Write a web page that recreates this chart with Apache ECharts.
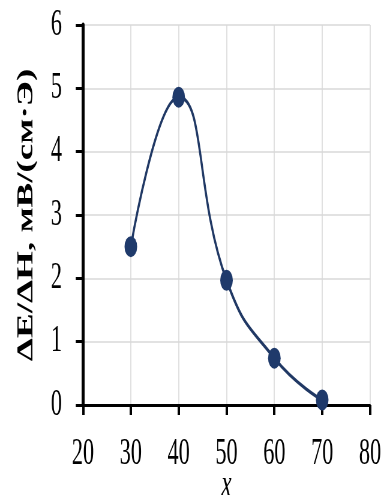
<!DOCTYPE html>
<html>
<head>
<meta charset="utf-8">
<script src="https://cdn.jsdelivr.net/npm/echarts@6/dist/echarts.min.js"></script>
<style>
html,body{margin:0;padding:0;background:#fff;overflow:hidden;width:384px;height:495px;}
#c{width:640px;height:495px;transform:scaleX(0.6);transform-origin:0 0;}
</style>
</head>
<body>
<div id="c"></div>
<script>
var xValues = [30, 40, 50, 60, 70];
var yValues = [2.5, 4.86, 1.97, 0.74, 0.08];
var xTicks = [20, 30, 40, 50, 60, 70, 80];
var yTicks = [0, 1, 2, 3, 4, 5, 6];
var xTitle = 'x';
var yTitle = 'ΔE/ΔH, мВ/(см·Э)';

var chart = echarts.init(document.getElementById('c'), null, {renderer: 'canvas'});
var font = "'Times New Roman', 'Liberation Serif', serif";
chart.setOption({
  animation: false,
  backgroundColor: '#fff',
  textStyle: {fontFamily: font},
  grid: {left: 138.3, right: 23.3, top: 25, bottom: 90, outerBoundsMode: 'none', containLabel: false},
  xAxis: {
    type: 'value', min: xTicks[0], max: xTicks[xTicks.length - 1], interval: 10,
    name: xTitle, nameLocation: 'middle', nameGap: 62, nameMoveOverlap: false,
    nameTextStyle: {fontFamily: font, fontStyle: 'italic', fontSize: 38, color: '#000'},
    axisLine: {onZero: false, lineStyle: {color: '#000', width: 3}},
    axisTick: {show: true, length: 10, lineStyle: {color: '#000', width: 4}},
    axisLabel: {fontFamily: font, fontSize: 37, color: '#000', margin: 31},
    splitLine: {show: true, lineStyle: {color: '#d9d9d9', width: 1.6}}
  },
  yAxis: {
    type: 'value', min: yTicks[0], max: yTicks[yTicks.length - 1], interval: 1,
    name: yTitle, nameLocation: 'middle', nameGap: 75, nameRotate: 90, nameMoveOverlap: false,
    nameTextStyle: {fontFamily: font, fontWeight: 'bold', fontSize: 37, color: '#000'},
    axisLine: {onZero: false, lineStyle: {color: '#000', width: 5}},
    axisTick: {show: true, length: 12, lineStyle: {color: '#000', width: 3}},
    axisLabel: {fontFamily: font, fontSize: 37, color: '#000', margin: 35},
    splitLine: {show: true, lineStyle: {color: '#d9d9d9', width: 1.5}}
  },
  series: [{
    type: 'line',
    data: xValues.map(function (x, i) { return [x, yValues[i]]; }),
    smooth: 0.5,
    symbol: 'circle',
    symbolSize: 21,
    lineStyle: {color: '#203864', width: 3.5},
    itemStyle: {color: '#1f3a6b'}
  }]
});
</script>
</body>
</html>
